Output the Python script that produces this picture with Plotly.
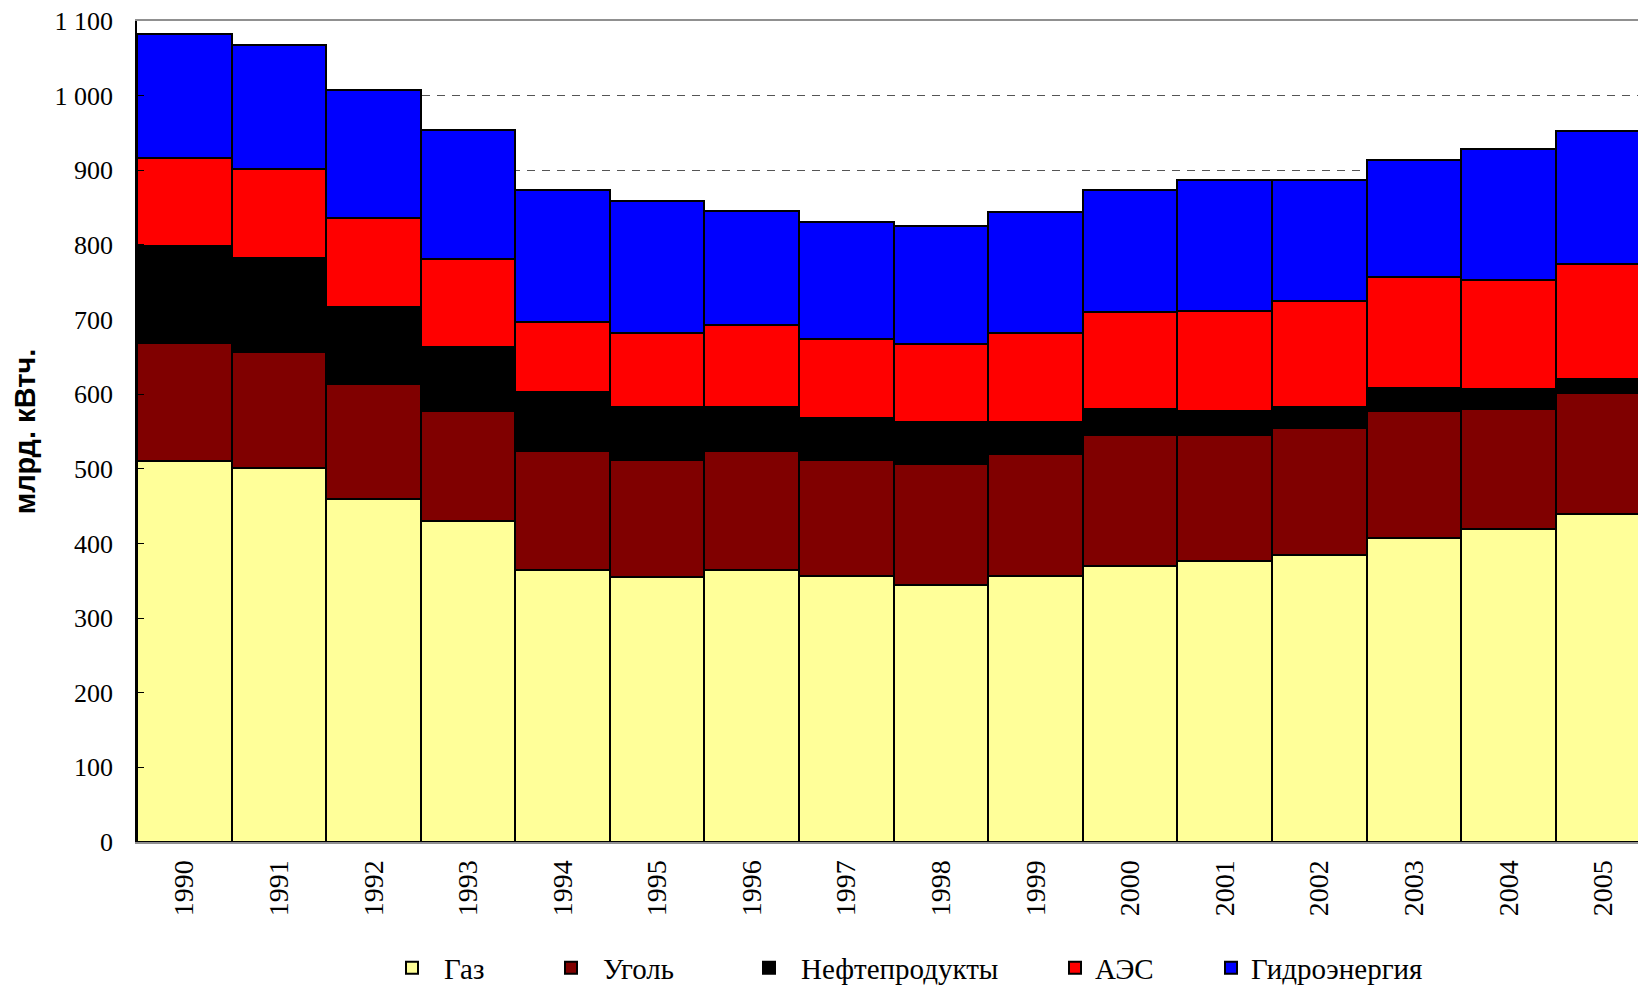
import plotly.graph_objects as go

years = ["1990", "1991", "1992", "1993", "1994", "1995", "1996", "1997",
         "1998", "1999", "2000", "2001", "2002", "2003", "2004", "2005"]

gas = [510, 501, 460, 430, 364, 355, 364, 357, 345, 357, 370, 376, 385, 407, 420, 440]
coal = [159, 155, 153, 147, 160, 157, 160, 155, 162, 163, 175, 169, 170, 171, 160, 161]
oil = [130, 126, 104, 86, 79, 71, 59, 56, 56, 43, 35, 33, 28, 30, 27, 19]
nuclear = [118, 120, 119, 118, 94, 99, 110, 106, 104, 119, 130, 134, 142, 149, 146, 154]
hydro = [166, 166, 172, 173, 177, 177, 153, 157, 159, 162, 164, 175, 162, 157, 176, 178]

series_names = ["Газ", "Уголь", "Нефтепродукты", "АЭС", "Гидроэнергия"]
series_values = [gas, coal, oil, nuclear, hydro]
series_colors = ["#FFFF99", "#800000", "#000000", "#FF0000", "#0000FF"]

y_ticks = [0, 100, 200, 300, 400, 500, 600, 700, 800, 900, 1000, 1100]
y_tick_text = ["0", "100", "200", "300", "400", "500", "600", "700", "800",
               "900", "1 000", "1 100"]

serif = "Liberation Serif, Times New Roman, serif"
W, H = 1638, 985

# each legend entry is placed on its own (left pixel of legend box, symbol width)
legend_left_px = [380, 539, 737, 1055, 1211]
legend_itemwidth = [54, 54, 54, 30, 30]

fig = go.Figure()
legend_ids = ["legend", "legend2", "legend3", "legend4", "legend5"]
for name, vals, color, lid in zip(series_names, series_values, series_colors, legend_ids):
    fig.add_trace(go.Bar(
        x=years, y=vals, name=name, legend=lid,
        marker=dict(color=color, line=dict(color="black", width=2)),
    ))

legend_layouts = {}
for lid, lx, iw in zip(legend_ids, legend_left_px, legend_itemwidth):
    legend_layouts[lid] = dict(
        orientation="h", xref="container", yref="container",
        x=lx / W, xanchor="left", y=0.0173, yanchor="middle",
        font=dict(family=serif, size=29, color="black"),
        itemwidth=iw, bgcolor="rgba(0,0,0,0)", borderwidth=0,
    )

fig.update_layout(
    width=W, height=H,
    margin=dict(l=137, r=0, t=21, b=143),
    paper_bgcolor="white", plot_bgcolor="white",
    barmode="stack", bargap=0,
    font=dict(family=serif, size=26, color="black"),
    showlegend=True,
    **legend_layouts,
    xaxis=dict(
        type="category", range=[-0.5, 15.37], automargin=False,
        showline=True, linecolor="#909090", linewidth=2, mirror=True,
        showgrid=False, ticks="", tickangle=-90,
        ticklabelstandoff=5,
        tickfont=dict(family=serif, size=28, color="black"),
    ),
    yaxis=dict(
        range=[0, 1100], tickvals=y_ticks, ticktext=y_tick_text, automargin=False,
        showline=True, linecolor="black", linewidth=1.5,
        ticks="inside", ticklen=7, tickcolor="black", tickwidth=1,
        ticklabelstandoff=17,
        showgrid=True, gridcolor="#555555", gridwidth=1, griddash="8px,7px",
        zeroline=False,
        tickfont=dict(family=serif, size=26, color="black"),
        title=dict(text="<b>млрд. кВтч.</b>", standoff=10,
                   font=dict(family="Liberation Sans, Arial, sans-serif", size=29, color="black")),
    ),
)

fig.write_html(
    "out.html",
    config={"displayModeBar": False},
    post_script="document.body.style.margin='0';document.body.style.overflow='hidden';",
)
